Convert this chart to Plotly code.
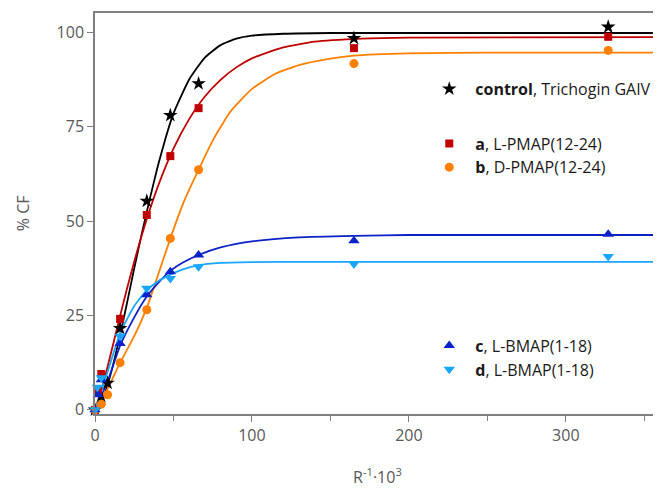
import plotly.graph_objects as go

# ---- measured data points ----
ctrl_x = [0, 4, 8, 16, 33, 48, 66, 165, 327]
ctrl_y = [0, 3.5, 7.1, 21.6, 55.3, 78.0, 86.4, 98.4, 101.4]

a_x = [0, 2, 4, 16, 33, 48, 66, 165, 327]
a_y = [0, 5.0, 9.5, 24.1, 51.6, 67.2, 79.9, 95.8, 98.8]

b_x = [0, 4, 8, 16, 33, 48, 66, 165, 327]
b_y = [0, 1.5, 4.0, 12.5, 26.5, 45.4, 63.6, 91.7, 95.2]

c_x = [0, 2, 4, 16, 33, 48, 66, 165, 327]
c_y = [0, 4.0, 8.0, 17.6, 30.5, 36.6, 41.0, 44.8, 46.5]

d_x = [0, 1.5, 4, 16, 33, 48, 66, 165, 327]
d_y = [0, 6.0, 8.5, 19.5, 32.2, 34.8, 37.9, 38.6, 40.6]

# ---- fitted curves ----
ctrl_fx = [0, 5, 10, 15, 20, 25, 30, 35, 40, 45, 50, 60, 70, 80, 90, 100, 120, 150, 360]
ctrl_fy = [0, 3.0, 9.5, 18.0, 27.5, 37.5, 47.0, 56.0, 64.5, 72.0, 78.5, 87.5, 93.3, 96.6, 98.3, 99.1, 99.6, 99.8, 99.8]

a_fx = [0, 5, 10, 15, 20, 30, 40, 50, 60, 70, 80, 90, 100, 120, 140, 170, 200, 360]
a_fy = [0, 6.5, 14.7, 23.2, 31.5, 46.5, 59.1, 69.2, 77.0, 83.0, 87.4, 90.7, 93.1, 96.0, 97.5, 98.3, 98.6, 98.7]

b_fx = [0, 8, 16, 25, 33, 40, 48, 56, 66, 75, 86, 100, 115, 130, 150, 165, 200, 250, 360]
b_fy = [0, 5.5, 12.5, 19.5, 27.0, 35.5, 45.4, 54.5, 63.6, 71.3, 78.8, 85.0, 89.0, 91.3, 93.0, 93.8, 94.4, 94.6, 94.6]

c_fx = [0, 8, 16, 25, 33, 40, 48, 56, 66, 80, 100, 130, 165, 200, 360]
c_fy = [0, 7.5, 17.0, 24.5, 30.0, 33.5, 36.8, 39.0, 41.0, 43.0, 44.6, 45.7, 46.1, 46.3, 46.3]

d_fx = [0, 4, 8, 16, 25, 33, 40, 48, 56, 66, 80, 100, 130, 360]
d_fy = [0, 5.0, 10.0, 20.3, 27.5, 31.7, 34.0, 35.8, 37.2, 38.3, 38.9, 39.1, 39.2, 39.2]

x_ticks = [0, 100, 200, 300]
y_ticks = [0, 25, 50, 75, 100]

x_title = "R<sup>-1</sup>·10<sup>3</sup>"
y_title = "% CF"

BLACK = "#000000"
RED = "#C00000"
ORANGE = "#FF8000"
BLUE = "#0A22C8"
LBLUE = "#1AA6FF"

series = [
    ("<b>control</b>, Trichogin GAIV", ctrl_x, ctrl_y, ctrl_fx, ctrl_fy, BLACK, "star", 11, "legend"),
    ("<b>a</b>, L-PMAP(12-24)", a_x, a_y, a_fx, a_fy, RED, "square", 8, "legend2"),
    ("<b>b</b>, D-PMAP(12-24)", b_x, b_y, b_fx, b_fy, ORANGE, "circle", 9, "legend2"),
    ("<b>c</b>, L-BMAP(1-18)", c_x, c_y, c_fx, c_fy, BLUE, "triangle-up", 10, "legend3"),
    ("<b>d</b>, L-BMAP(1-18)", d_x, d_y, d_fx, d_fy, LBLUE, "triangle-down", 10, "legend3"),
]

fig = go.Figure()
for name, px, py, fx, fy, col, sym, sz, lg in series:
    fig.add_trace(go.Scatter(x=fx, y=fy, mode="lines", line=dict(color=col, width=1.8, shape="spline", smoothing=0.5),
                             showlegend=False, hoverinfo="skip"))
for name, px, py, fx, fy, col, sym, sz, lg in series:
    fig.add_trace(go.Scatter(x=px, y=py, mode="markers", name=name, legend=lg,
                             marker=dict(symbol=sym, size=sz, color=col, line=dict(width=0)),
                             cliponaxis=False))

leg_common = dict(bgcolor="rgba(0,0,0,0)", font=dict(family="Open Sans", size=16, color="#1a1a1a"),
                  xanchor="left", yanchor="top", itemwidth=42, tracegroupgap=0)

fig.update_layout(
    width=653, height=480,
    margin=dict(l=87, r=1, t=5, b=74, autoexpand=False),
    paper_bgcolor="white", plot_bgcolor="white",
    font=dict(family="Open Sans", size=16, color="#595959"),
    legend=dict(x=0.581, y=0.853, **leg_common),
    legend2=dict(x=0.581, y=0.717, **leg_common),
    legend3=dict(x=0.581, y=0.213, **leg_common),
    xaxis=dict(range=[0, 360], tickvals=x_ticks, ticks="outside", ticklen=6, tickcolor="#808080",
               showline=True, linecolor="#808080", linewidth=1.5, mirror=True, showgrid=False, zeroline=False,
               automargin=False,
               minor=dict(dtick=50, tick0=0, ticks="outside", ticklen=5, tickcolor="#808080"),
               tickfont=dict(size=16, color="#595959")),
    yaxis=dict(range=[-1.1, 105.1], tickvals=y_ticks, ticks="outside", ticklen=6, tickcolor="#808080",
               showline=True, linecolor="#808080", linewidth=1.5, mirror=True, showgrid=False, zeroline=False,
               automargin=False,
               tickfont=dict(size=16, color="#595959")),
    annotations=[
        dict(text=x_title, xref="paper", yref="paper", x=0.5, y=-0.155,
             xanchor="center", yanchor="middle", showarrow=False,
             font=dict(family="Open Sans", size=16, color="#595959")),
        dict(text=y_title, xref="paper", yref="paper", x=-0.128, y=0.5, textangle=-90,
             xanchor="center", yanchor="middle", showarrow=False,
             font=dict(family="Open Sans", size=16, color="#595959")),
    ],
)

fig.write_html("out.html")
